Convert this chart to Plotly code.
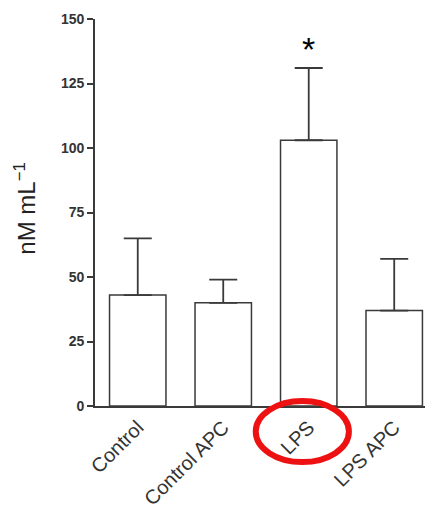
import plotly.graph_objects as go

categories = ["Control", "Control APC", "LPS", "LPS APC"]
means = [43, 40, 103, 37]
errors_up = [22, 9, 28, 20]
y_ticks = [0, 25, 50, 75, 100, 125, 150]
significance = ["", "", "*", ""]

line_col = "#3a3a3a"

fig = go.Figure()
fig.add_trace(go.Bar(
    x=categories, y=means,
    width=0.66,
    marker=dict(color="white", line=dict(color=line_col, width=1.5)),
    error_y=dict(type="data", array=errors_up, arrayminus=[0]*len(means),
                 symmetric=False, color=line_col, thickness=1.8, width=14),
))

for c, m, e, s in zip(categories, means, errors_up, significance):
    if s:
        fig.add_annotation(x=c, y=m + e, text=s, showarrow=False, yshift=19,
                           font=dict(size=34, color="black", family="Liberation Sans"))

# red ellipse around the LPS label
fig.add_shape(type="circle", xref="x", yref="paper",
              x0=1.38, x1=2.47, y0=-0.145, y1=0.013,
              line=dict(color="#ee1111", width=6))

fig.update_layout(
    width=434, height=510,
    margin=dict(l=95, r=9, t=19, b=104),
    plot_bgcolor="white", paper_bgcolor="white",
    showlegend=False,
    font=dict(family="Liberation Sans", color="#333"),
)
fig.add_annotation(text="nM mL<sup>−1</sup>", xref="paper", yref="paper",
                   x=-0.212, y=0.51, xanchor="center", yanchor="middle",
                   textangle=-90, showarrow=False,
                   font=dict(size=24, color="#222"))
fig.update_xaxes(range=[-0.5, 3.36], showline=True, linecolor=line_col, linewidth=1.8,
                 ticks="", tickangle=-45, tickfont=dict(size=20, color="#333"),
                 showgrid=False, zeroline=False, automargin=False)
fig.update_yaxes(range=[0, 150], tickvals=y_ticks, showline=True, linecolor=line_col,
                 linewidth=1.8, ticks="outside", ticklen=6, tickwidth=1.8, tickcolor=line_col,
                 tickfont=dict(size=14, color="#333", weight="bold"), showgrid=False,
                 zeroline=False, automargin=False)

fig.write_html("out.html", config={"displayModeBar": False},
               post_script="document.body.style.margin='0';document.body.style.overflow='hidden';")
